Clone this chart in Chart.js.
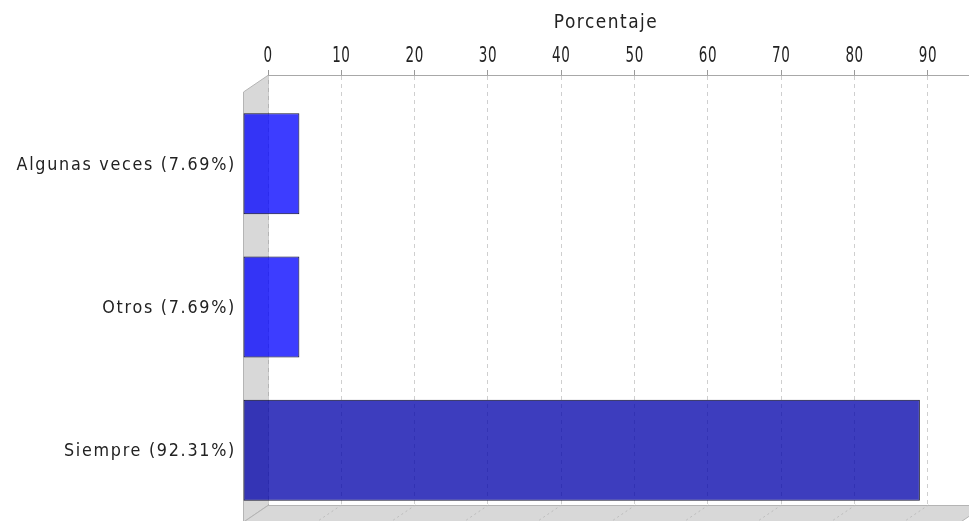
<!DOCTYPE html>
<html>
<head>
<meta charset="utf-8">
<title>Porcentaje</title>
<script src="https://cdn.jsdelivr.net/npm/chart.js@4/dist/chart.umd.min.js"></script>
<style>
  html, body { margin: 0; padding: 0; background: #fff; }
  #contenedor { width: 969px; height: 521px; }
</style>
</head>
<body>
<div id="contenedor"><canvas id="grafico"></canvas></div>
<script>
// datos del grafico
var categorias = ['Algunas veces (7.69%)', 'Otros (7.69%)', 'Siempre (92.31%)'];
var porcentajes = [7.69, 7.69, 92.31];
var marcasEje = [0, 10, 20, 30, 40, 50, 60, 70, 80, 90];
var tituloEje = 'Porcentaje';

// desplazamiento del efecto 3D (pared del fondo -> plano frontal)
var profX = 25;
var profY = 17;
var fuenteEstrecha = "'DejaVu Sans Condensed', 'DejaVu Sans', sans-serif";
var fuente = "'DejaVu Sans', sans-serif";

// texto estirado en vertical, como en el grafico original
function texto(ctx, str, x, y, font, estiro, espacio, align) {
    ctx.save();
    ctx.font = font;
    ctx.letterSpacing = espacio + 'px';
    ctx.textAlign = align;
    ctx.textBaseline = 'alphabetic';
    ctx.fillStyle = '#222';
    ctx.translate(x, y);
    ctx.scale(1, estiro);
    ctx.fillText(str, 0, 0);
    ctx.restore();
}

// paredes grises (izquierda y suelo) detras de las barras
var paredes = {
    id: 'paredes',
    beforeDraw: function (chart) {
        var ctx = chart.ctx;
        var a = chart.chartArea;
        var escalaX = chart.scales.x;
        var derecha = a.right + 16;
        ctx.save();
        ctx.fillStyle = '#d8d8d8';
        ctx.strokeStyle = '#b4b4b4';
        ctx.lineWidth = 1;

        // pared izquierda
        ctx.beginPath();
        ctx.moveTo(a.left - profX + 0.5, a.top + profY);
        ctx.lineTo(a.left + 0.5, a.top);
        ctx.lineTo(a.left + 0.5, a.bottom);
        ctx.lineTo(a.left - profX + 0.5, a.bottom + profY);
        ctx.closePath();
        ctx.fill();
        ctx.stroke();

        // suelo
        ctx.beginPath();
        ctx.moveTo(a.left, a.bottom + 0.5);
        ctx.lineTo(derecha, a.bottom + 0.5);
        ctx.lineTo(derecha - profX, a.bottom + profY + 0.5);
        ctx.lineTo(a.left - profX, a.bottom + profY + 0.5);
        ctx.closePath();
        ctx.fill();
        ctx.stroke();

        // lineas de la rejilla sobre el suelo
        ctx.strokeStyle = '#bdbdbd';
        ctx.setLineDash([2, 3]);
        marcasEje.forEach(function (v) {
            if (v === 0) return;
            var x = Math.round(escalaX.getPixelForValue(v)) + 0.5;
            ctx.beginPath();
            ctx.moveTo(x, a.bottom);
            ctx.lineTo(x - profX, a.bottom + profY);
            ctx.stroke();
        });
        ctx.restore();
    }
};

// las barras se dibujan en el plano frontal
var planoFrontal = {
    id: 'planoFrontal',
    beforeDatasetsDraw: function (chart) {
        chart.ctx.save();
        chart.ctx.translate(-profX, profY);
    },
    afterDatasetsDraw: function (chart) {
        chart.ctx.restore();
    }
};

// titulo y etiquetas de los ejes
var etiquetas = {
    id: 'etiquetas',
    afterDraw: function (chart) {
        var ctx = chart.ctx;
        var escalaX = chart.scales.x;
        var escalaY = chart.scales.y;

        marcasEje.forEach(function (v) {
            texto(ctx, String(v), escalaX.getPixelForValue(v), 62, '15px ' + fuenteEstrecha, 1.4, 0.6, 'center');
        });

        var centro = (escalaX.left - profX + escalaX.right) / 2;
        texto(ctx, tituloEje, centro, 28, '17px ' + fuente, 1.15, 1.5, 'center');

        categorias.forEach(function (c, i) {
            var y = escalaY.getPixelForValue(i) + profY;
            texto(ctx, c, 236, y + 6, '16px ' + fuente, 1.08, 1.7, 'right');
        });
    }
};

var ctx = document.getElementById('grafico');
var chart = new Chart(ctx, {
    type: 'bar',
    data: {
        labels: categorias,
        datasets: [{
            label: tituloEje,
            data: porcentajes,
            backgroundColor: ['rgba(0, 0, 255, 0.76)', 'rgba(0, 0, 255, 0.76)', 'rgba(0, 0, 170, 0.76)'],
            borderColor: '#14142e',
            borderWidth: 1,
            borderSkipped: false,
            categoryPercentage: 1,
            barPercentage: 0.705,
            clip: false
        }]
    },
    plugins: [paredes, planoFrontal, etiquetas],
    options: {
        indexAxis: 'y',
        responsive: true,
        maintainAspectRatio: false,
        animation: false,
        layout: { padding: { top: 0, left: 0, right: 0, bottom: 16 } },
        plugins: {
            legend: { display: false },
            tooltip: { enabled: false }
        },
        scales: {
            x: {
                position: 'top',
                min: 0,
                max: 95.6,
                afterBuildTicks: function (scale) {
                    scale.ticks = marcasEje.map(function (v) { return { value: v }; });
                },
                afterFit: function (scale) {
                    scale.height = 75;
                },
                ticks: { display: false },
                grid: {
                    color: '#cfcfcf',
                    tickColor: '#999',
                    tickLength: 5,
                    tickBorderDash: []
                },
                border: {
                    color: '#a8a8a8',
                    dash: [4, 4]
                }
            },
            y: {
                afterFit: function (scale) {
                    scale.width = 268;
                },
                grid: { display: false, drawTicks: false },
                border: { display: false },
                ticks: { display: false, padding: 0 }
            }
        }
    }
});
</script>
</body>
</html>
